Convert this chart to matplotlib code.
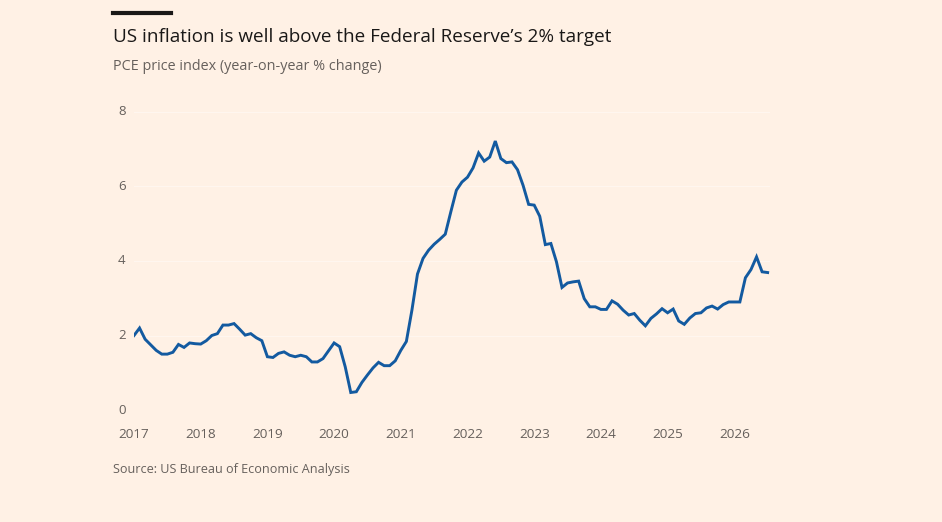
import numpy as np
import pandas as pd
import matplotlib
matplotlib.use("Agg")
import matplotlib.pyplot as plt

# PCE price index, year-on-year % change, monthly from Jan 2017
pce_2017 = [2.0, 2.2, 1.9, 1.75, 1.6, 1.5, 1.5, 1.55, 1.76, 1.68, 1.8, 1.78]
pce_2018 = [1.77, 1.86, 2.0, 2.05, 2.28, 2.28, 2.32, 2.17, 2.01, 2.05, 1.94, 1.86]
pce_2019 = [1.43, 1.41, 1.52, 1.56, 1.47, 1.43, 1.47, 1.43, 1.29, 1.29, 1.38, 1.59]
pce_2020 = [1.80, 1.70, 1.16, 0.47, 0.49, 0.74, 0.94, 1.13, 1.28, 1.19, 1.19, 1.32]
pce_2021 = [1.60, 1.84, 2.68, 3.65, 4.07, 4.29, 4.45, 4.58, 4.72, 5.32, 5.90, 6.12]
pce_2022 = [6.25, 6.50, 6.90, 6.68, 6.79, 7.22, 6.75, 6.64, 6.66, 6.45, 6.03, 5.52]
pce_2023 = [5.50, 5.20, 4.44, 4.47, 3.98, 3.29, 3.41, 3.44, 3.46, 2.99, 2.77, 2.77]
pce_2024 = [2.70, 2.70, 2.93, 2.84, 2.68, 2.55, 2.59, 2.41, 2.26, 2.46, 2.58, 2.72]
pce_2025 = [2.61, 2.71, 2.39, 2.30, 2.47, 2.59, 2.61, 2.74, 2.79, 2.71, 2.83, 2.90]
pce_2026 = [2.90, 2.90, 3.55, 3.77, 4.11, 3.71, 3.69]

valores = (pce_2017 + pce_2018 + pce_2019 + pce_2020 + pce_2021
           + pce_2022 + pce_2023 + pce_2024 + pce_2025 + pce_2026)
fechas = pd.date_range("2017-01-01", periods=len(valores), freq="MS")

anios = list(range(2017, 2027))
yticks = [0, 2, 4, 6, 8]

fondo = "#fff1e5"
azul = "#135aa0"
gris = "#66605c"


def fecha_decimal(f):
    return f.year + (f.month - 1) / 12.0


def graficar():
    plt.rcParams["font.family"] = ["Open Sans", "DejaVu Sans"]
    fig = plt.figure(figsize=(9.42, 5.22), dpi=100, facecolor=fondo)

    # axes: x 134 -> 770 px, y 0 at 410 px, 8 at 112 px
    W, H = 942.0, 522.0
    x0, x1 = 134, 770
    ytop, ybot = 112, 410
    ax = fig.add_axes([x0 / W, 1 - ybot / H, (x1 - x0) / W, (ybot - ytop) / H])
    ax.set_facecolor(fondo)

    xs = [fecha_decimal(f) for f in fechas]
    ax.plot(xs, valores, color=azul, lw=2.1, solid_joinstyle="miter", zorder=3)

    xmax = 2017 + (x1 - x0) / 66.7
    ax.set_xlim(2017, xmax)
    ax.set_ylim(0, 8)

    for y in yticks:
        ax.axhline(y, color="#fff6ef", lw=0.8, zorder=1)

    for s in ax.spines.values():
        s.set_visible(False)
    ax.tick_params(length=0)
    ax.set_xticks(anios)
    ax.set_xticklabels([str(a) for a in anios], color=gris, fontsize=9.7)
    ax.tick_params(axis="x", pad=13)
    ax.set_yticks(yticks)
    ax.set_yticklabels([])
    for y in yticks:
        ax.text(-0.025, y, str(y), transform=ax.get_yaxis_transform(),
                ha="left", va="center", color=gris, fontsize=9.5)

    # black bar, title, subtitle, source
    fig.add_artist(plt.Line2D([113 / W, 171 / W], [1 - 13 / H, 1 - 13 / H],
                              color="#1a1817", lw=3))
    fig.text(113 / W, 1 - 37 / H, "US inflation is well above the Federal Reserve\u2019s 2% target",
             fontsize=13.6, color="#1a1817", va="center", ha="left")
    fig.text(113 / W, 1 - 67 / H, "PCE price index (year-on-year % change)",
             fontsize=10.4, color=gris, va="center", ha="left")
    fig.text(113 / W, 1 - 469 / H, "Source: US Bureau of Economic Analysis",
             fontsize=9.1, color=gris, va="center", ha="left")

    fig.savefig("out.png", dpi=100, facecolor=fondo)


def main():
    graficar()


if __name__ == "__main__":
    main()
